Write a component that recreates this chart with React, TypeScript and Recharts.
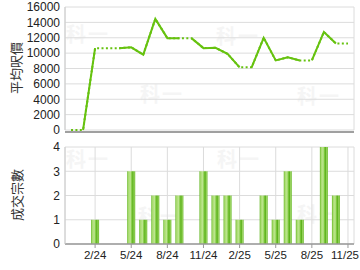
import React from 'react';
import { LineChart, Line, BarChart, Bar, XAxis, YAxis, CartesianGrid } from 'recharts';

const months = [
  '12/23', '1/24', '2/24', '3/24', '4/24', '5/24', '6/24', '7/24', '8/24', '9/24', '10/24', '11/24',
  '12/24', '1/25', '2/25', '3/25', '4/25', '5/25', '6/25', '7/25', '8/25', '9/25', '10/25', '11/25',
];
// average price per sq ft (months without deals carry the last value forward)
const avgPrice = [
  0, 0, 10650, 10650, 10650, 10750, 9800, 14450, 11950, 11950, 11950, 10650,
  10700, 9900, 8150, 8150, 12000, 9050, 9450, 9050, 9050, 12750, 11250, 11250,
];
const dealCount = [0, 0, 1, 0, 0, 3, 1, 2, 1, 2, 0, 3, 2, 2, 1, 0, 2, 1, 3, 1, 0, 4, 2, 0];
const tickMonths = [2, 5, 8, 11, 14, 17, 20, 23];
const priceTicks = [0, 2000, 4000, 6000, 8000, 10000, 12000, 14000, 16000];
const countTicks = [0, 1, 2, 3, 4];

const GREEN = '#66c20f';
const FONT = '"Liberation Sans", Arial, sans-serif';
const CJK = '"Noto Sans CJK TC", "Noto Sans", sans-serif';

// a segment (i-1 -> i) is solid when month i has deals; runs alternate between two series so gaps stay open
function buildRows() {
  const solidA: (number | null)[] = avgPrice.map(() => null);
  const solidB: (number | null)[] = avgPrice.map(() => null);
  let run = -1;
  let prevSolid = false;
  for (let i = 1; i < avgPrice.length; i++) {
    const solid = dealCount[i] > 0;
    if (solid) {
      if (!prevSolid) run++;
      const target = run % 2 === 0 ? solidA : solidB;
      target[i - 1] = avgPrice[i - 1];
      target[i] = avgPrice[i];
    }
    prevSolid = solid;
  }
  return months.map((m, i) => ({
    x: i,
    month: m,
    price: avgPrice[i],
    solidA: solidA[i],
    solidB: solidB[i],
    deals: dealCount[i] || null,
  }));
}

const rows = buildRows();

const watermark = (left: number, top: number) => (
  <div
    key={`${left}-${top}`}
    style={{
      position: 'absolute', left, top, fontFamily: CJK, fontWeight: 700, fontSize: 20,
      color: '#f5f5f5', letterSpacing: 2, lineHeight: 1,
    }}
  >
    科一
  </div>
);

// month label under the bars; the last one is pulled in so it stays inside the picture
function MonthTick(props: any) {
  const { x, y, payload } = props;
  const label = months[payload.value];
  const half = label.length * 5.6 / 2;
  const cx = Math.min(x, 359 - half);
  return (
    <text x={cx} y={y + 9} textAnchor="middle" fontSize={11.5} fill="#222" fontFamily={FONT}>
      {label}
    </text>
  );
}

export default function App() {
  const tickStyle = { fontSize: 12, fill: '#222', fontFamily: FONT };
  return (
    <div style={{ position: 'absolute', left: 0, top: 0, width: 360, height: 270, background: '#fff' }}>
      {[
        [66, 24], [140, 84], [216, 26], [297, 86],
        [66, 149], [138, 206], [217, 149], [297, 204],
      ].map(([l, t]) => watermark(l, t))}

      {/* bottom axis of the price chart, sits just under the zero line */}
      <div style={{ position: 'absolute', left: 65, top: 131, width: 289, height: 2, background: '#a0a0a0' }} />

      <div style={{ position: 'absolute', left: 0, top: 0 }}>
        <LineChart width={360} height={140} data={rows} margin={{ top: 7, right: 6, bottom: 0, left: 0 }}>
          <CartesianGrid stroke="#dcdcdc" />
          <XAxis
            dataKey="x" type="number" domain={[-0.5, 23.5]} ticks={tickMonths}
            tick={false} tickLine={false} height={10} axisLine={false}
          />
          <YAxis
            width={65} domain={[0, 16000]} ticks={priceTicks} interval={0} tickLine={false} tickSize={3} tickMargin={2}
            axisLine={{ stroke: '#ccc' }} tick={tickStyle}
          />
          <Line dataKey="price" stroke={GREEN} strokeWidth={2} strokeDasharray="2 2.4" dot={false} isAnimationActive={false} />
          <Line dataKey="solidA" stroke={GREEN} strokeWidth={2} dot={false} connectNulls={false} isAnimationActive={false} />
          <Line dataKey="solidB" stroke={GREEN} strokeWidth={2} dot={false} connectNulls={false} isAnimationActive={false} />
        </LineChart>
      </div>

      <div style={{ position: 'absolute', left: 0, top: 140 }}>
        <BarChart width={360} height={130} data={rows} margin={{ top: 7, right: 6, bottom: 0, left: 0 }}>
          <defs>
            <linearGradient id="barFill" x1="0" y1="0" x2="1" y2="0">
              <stop offset="0%" stopColor="#5fb51c" />
              <stop offset="14%" stopColor="#a6da6c" />
              <stop offset="40%" stopColor="#bde68f" />
              <stop offset="58%" stopColor="#7cc63c" />
              <stop offset="72%" stopColor="#5cb21c" />
              <stop offset="86%" stopColor="#9cd563" />
              <stop offset="100%" stopColor="#5fb51c" />
            </linearGradient>
          </defs>
          <CartesianGrid stroke="#dcdcdc" />
          <XAxis
            dataKey="x" type="number" domain={[-0.5, 23.5]} ticks={tickMonths} interval={0}
            height={26} tickSize={4}
            tickLine={{ stroke: '#999' }} axisLine={{ stroke: '#999', strokeWidth: 1.5 }} tick={<MonthTick />}
          />
          <YAxis
            width={65} domain={[0, 4]} ticks={countTicks} interval={0} tickLine={false} tickSize={3} tickMargin={2}
            axisLine={{ stroke: '#ccc' }} tick={tickStyle}
          />
          <Bar dataKey="deals" fill="url(#barFill)" barSize={8} isAnimationActive={false} />
        </BarChart>
      </div>

      <div
        style={{
          position: 'absolute', left: 15, top: 68, transform: 'translate(-50%, -50%) rotate(-90deg)',
          whiteSpace: 'nowrap', fontSize: 13, fontFamily: CJK, color: '#333', lineHeight: 1,
        }}
      >
        平均呎價
      </div>
      <div
        style={{
          position: 'absolute', left: 16, top: 195, transform: 'translate(-50%, -50%) rotate(-90deg)',
          whiteSpace: 'nowrap', fontSize: 13, fontFamily: CJK, color: '#333', lineHeight: 1,
        }}
      >
        成交宗數
      </div>
    </div>
  );
}
